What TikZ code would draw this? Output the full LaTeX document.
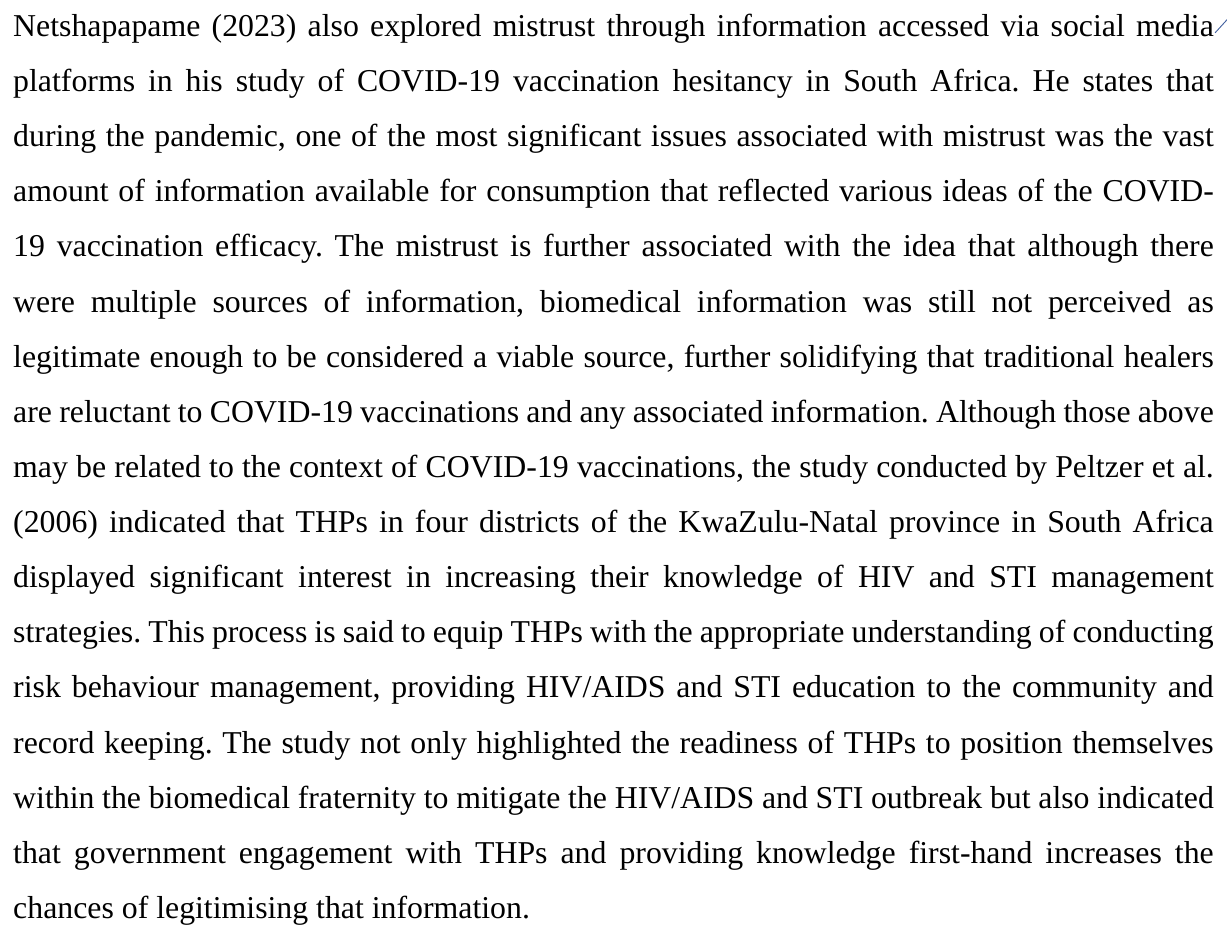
\documentclass[tikz,border=0pt]{standalone}
\usepackage{fontspec}
\setmainfont{Liberation Serif}
\usepackage{tikz}
\definecolor{markblue}{RGB}{68,98,160}

\begin{document}
\begin{tikzpicture}[x=1pt,y=1pt,
	para/.style={anchor=north west, inner sep=0pt, text width=453pt, align=justify,
		font=\fontsize{12pt}{20.8pt}\selectfont\frenchspacing},
	commentmark/.style={draw=markblue, line width=0.35pt}]
	\useasboundingbox (0,0) rectangle (463,-349.4);
	\node[para] (body) at (4.8,-5.1) {Netshapapame (2023) also explored mistrust through information accessed via social media\linebreak
		platforms in his study of COVID-19 vaccination hesitancy in South Africa. He states that\linebreak
		during the pandemic, one of the most significant issues associated with mistrust was the vast\linebreak
		amount of information available for consumption that reflected various ideas of the COVID-\linebreak
		19 vaccination efficacy. The mistrust is further associated with the idea that although there\linebreak
		were multiple sources of information, biomedical information was still not perceived as\linebreak
		legitimate enough to be considered a viable source, further solidifying that traditional healers\linebreak
		are reluctant to COVID-19 vaccinations and any associated information. Although those above\linebreak
		may be related to the context of COVID-19 vaccinations, the study conducted by Peltzer et~al.\linebreak
		(2006) indicated that THPs in four districts of the KwaZulu-Natal province in South Africa\linebreak
		displayed significant interest in increasing their knowledge of HIV and STI management\linebreak
		strategies. This process is said to equip THPs with the appropriate understanding of conducting\linebreak
		risk behaviour management, providing HIV/AIDS and STI education to the community and\linebreak
		record keeping. The study not only highlighted the readiness of THPs to position themselves\linebreak
		within the biomedical fraternity to mitigate the HIV/AIDS and STI outbreak but also indicated\linebreak
		that government engagement with THPs and providing knowledge first-hand increases the\linebreak
		chances of legitimising that information.};
	% comment marker at the end of the first line
	\coordinate (markfoot) at (458.5,-12.4);
	\coordinate (markhead) at (463.5,-6.9);
	\draw[commentmark] (markfoot) -- (markhead);
\end{tikzpicture}
\end{document}
